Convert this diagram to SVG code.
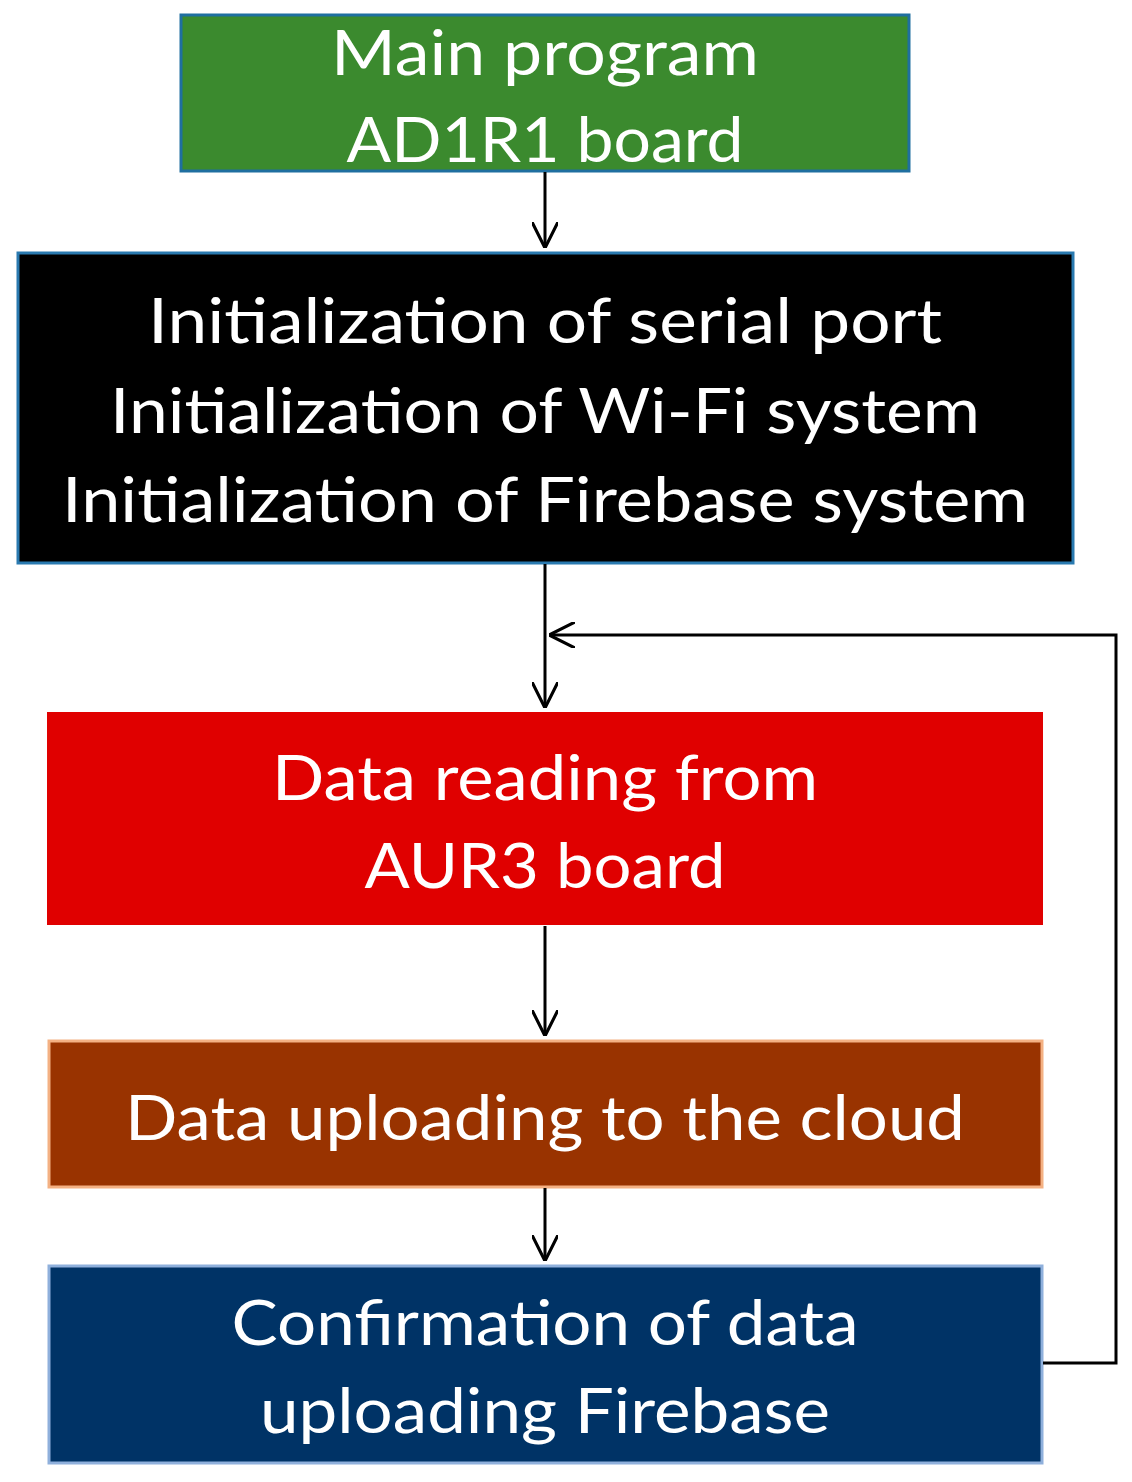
<svg xmlns="http://www.w3.org/2000/svg" width="1132" height="1482" viewBox="0 0 1132 1482">
<style>
text{font-family:Lato,"Open Sans","Liberation Sans",sans-serif;font-size:62px;fill:#fff;text-anchor:middle}
.c{stroke:#000;stroke-width:3;fill:none}
</style>
<defs><marker id="a" viewBox="0 0 10 10" refX="10" refY="5" markerWidth="8" markerHeight="8" markerUnits="userSpaceOnUse" orient="auto"><path d="M0,0L10,5L0,10z" fill="#000"/></marker>
<marker id="b" viewBox="0 0 10 10" refX="10" refY="5" markerWidth="26" markerHeight="26" markerUnits="userSpaceOnUse" orient="auto"><path d="M0,0L10,5L0,10" fill="none" stroke="#000" stroke-width="1.2"/></marker></defs>
<rect width="1132" height="1482" fill="#fff"/>
<g id="n1"><rect x="181" y="15" width="728" height="156" fill="#3b8a2e" stroke="#1f6fa0" stroke-width="3"/>
<text x="545" y="75" textLength="428" lengthAdjust="spacingAndGlyphs">Main program</text>
<text x="545" y="162" textLength="397" lengthAdjust="spacingAndGlyphs">AD1R1 board</text></g>
<g id="n2"><rect x="18" y="253" width="1055" height="310" fill="#000" stroke="#2a7ab0" stroke-width="3"/>
<text x="545" y="343" textLength="794" lengthAdjust="spacingAndGlyphs">Initialization of  serial port</text>
<text x="545" y="433" textLength="870" lengthAdjust="spacingAndGlyphs">Initialization of  Wi-Fi system</text>
<text x="545" y="522" textLength="966" lengthAdjust="spacingAndGlyphs">Initialization of  Firebase system</text></g>
<g id="n3"><rect x="47" y="712" width="996" height="213" fill="#e00000"/>
<text x="545" y="800" textLength="546" lengthAdjust="spacingAndGlyphs">Data reading from</text>
<text x="545" y="888" textLength="361" lengthAdjust="spacingAndGlyphs">AUR3 board</text></g>
<g id="n4"><rect x="49" y="1041" width="993" height="146" fill="#993300" stroke="#f4b183" stroke-width="3"/>
<text x="545" y="1140" textLength="840" lengthAdjust="spacingAndGlyphs">Data uploading to the cloud</text></g>
<g id="n5"><rect x="49" y="1266" width="993" height="197" fill="#003366" stroke="#8fb0dc" stroke-width="3"/>
<text x="545" y="1345" textLength="627" lengthAdjust="spacingAndGlyphs">Confirmation of data</text>
<text x="545" y="1433" textLength="570" lengthAdjust="spacingAndGlyphs">uploading Firebase</text></g>
<g id="connectors" class="c">
<path class="c" d="M545,172V248" marker-end="url(#b)"/>
<path class="c" d="M545,564V708" marker-end="url(#b)"/>
<path class="c" d="M545,926V1036" marker-end="url(#b)"/>
<path class="c" d="M545,1188V1261" marker-end="url(#b)"/>
<path class="c" d="M1043,1363H1116V635H549" marker-end="url(#b)"/>
</g>
</svg>
